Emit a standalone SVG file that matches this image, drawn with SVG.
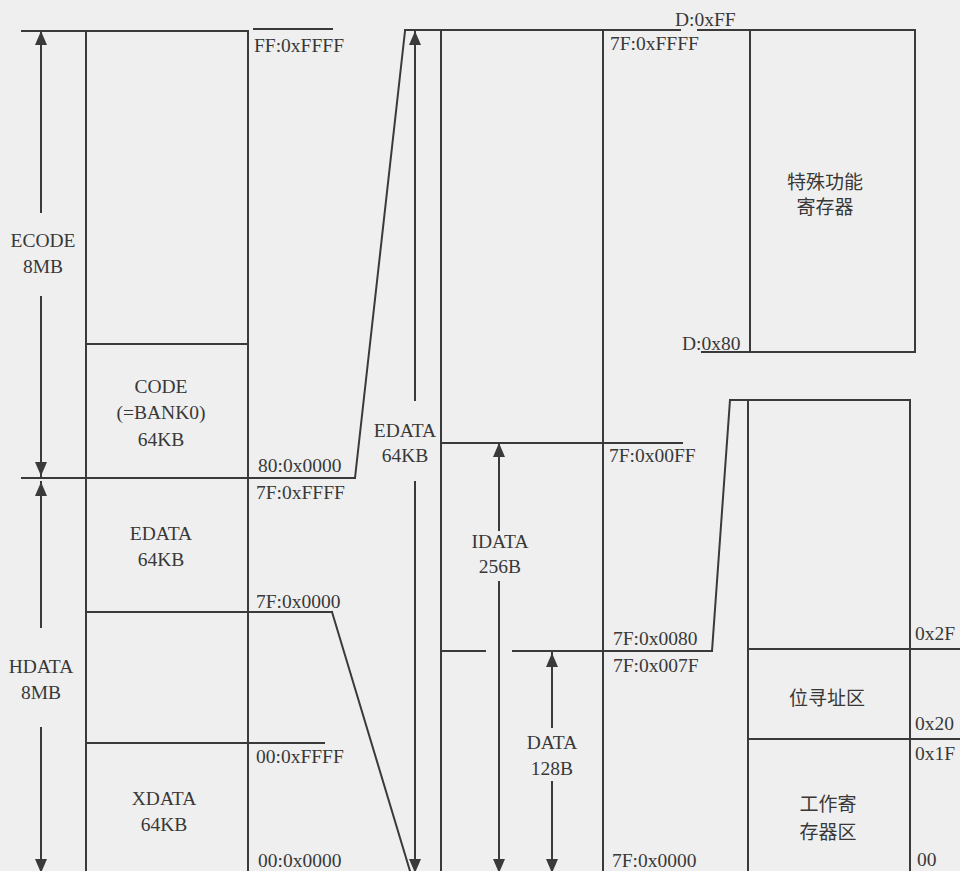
<svg xmlns="http://www.w3.org/2000/svg" width="960" height="871" viewBox="0 0 960 871">
<style>
.ln{stroke:#3a3a3a;stroke-width:2;fill:none;stroke-linecap:square}
.t{font-family:"Liberation Serif","Times New Roman",serif;font-size:19.5px;fill:#383838}
.c{text-anchor:middle}
.cjk{font-family:"Noto Sans CJK SC","Noto Sans CJK JP",sans-serif;font-size:19px;fill:#383838;text-anchor:middle}
</style>
<defs>
<marker id="ah" markerUnits="userSpaceOnUse" markerWidth="14" markerHeight="12" refX="14" refY="6" orient="auto">
<path d="M0,0 L14,6 L0,12 z" fill="#3a3a3a"/>
</marker>
</defs>
<rect width="960" height="871" fill="#efefef"/>

<g id="left-memory">
<path class="ln" d="M22,31 H248 M86,31 V871 M248,31 V871 M86,344 H248 M22,478 H355 M86,612 H332 M86,743 H324 M254,29 H332"/>
<text class="t c" x="43" y="247">ECODE</text>
<text class="t c" x="43" y="273">8MB</text>
<text class="t c" x="161" y="393">CODE</text>
<text class="t c" x="161" y="419">(=BANK0)</text>
<text class="t c" x="161" y="446">64KB</text>
<text class="t c" x="161" y="540">EDATA</text>
<text class="t c" x="161" y="566">64KB</text>
<text class="t c" x="41" y="673">HDATA</text>
<text class="t c" x="41" y="699">8MB</text>
<text class="t c" x="164" y="805">XDATA</text>
<text class="t c" x="164" y="831">64KB</text>
<text class="t" x="254" y="52">FF:0xFFFF</text>
<text class="t" x="258" y="472">80:0x0000</text>
<text class="t" x="256" y="499">7F:0xFFFF</text>
<text class="t" x="256" y="608">7F:0x0000</text>
<text class="t" x="256" y="763">00:0xFFFF</text>
<text class="t" x="258" y="867">00:0x0000</text>
</g>

<g id="middle-memory">
<path class="ln" d="M405,30 H680 M441,30 V871 M603,30 V871 M441,443 H682 M441,651 H485 M513,651 H712"/>
<text class="t c" x="405" y="437">EDATA</text>
<text class="t c" x="405" y="462">64KB</text>
<text class="t c" x="500" y="548">IDATA</text>
<text class="t c" x="500" y="573">256B</text>
<text class="t c" x="552" y="749">DATA</text>
<text class="t c" x="552" y="775">128B</text>
<text class="t" x="610" y="50">7F:0xFFFF</text>
<text class="t" x="609" y="462">7F:0x00FF</text>
<text class="t" x="613" y="645">7F:0x0080</text>
<text class="t" x="613" y="672">7F:0x007F</text>
<text class="t" x="612" y="867">7F:0x0000</text>
</g>

<g id="sfr">
<path class="ln" d="M698,30 H915 M750,30 V352 M915,30 V352 M702,352 H915"/>
<text class="t" x="675" y="26">D:0xFF</text>
<text class="t" x="682" y="350">D:0x80</text>
<text class="cjk" x="825" y="189">特殊功能</text>
<text class="cjk" x="825" y="214">寄存器</text>
</g>

<g id="internal-ram">
<path class="ln" d="M730,400 H910 M748,400 V871 M910,400 V871 M748,649 H960 M748,739 H960"/>
<text class="cjk" x="827" y="705">位寻址区</text>
<text class="cjk" x="828" y="811">工作寄</text>
<text class="cjk" x="828" y="839">存器区</text>
<text class="t" x="915" y="640">0x2F</text>
<text class="t" x="915" y="730">0x20</text>
<text class="t" x="915" y="760">0x1F</text>
<text class="t" x="917" y="866">00</text>
</g>

<g id="connectors">
<path class="ln" d="M355,478 L405,31 M332,612 L410,871 M712,651 L730,400"/>
<g class="ln" marker-end="url(#ah)">
<line x1="41" y1="212" x2="41" y2="31"/>
<line x1="41" y1="297" x2="41" y2="476"/>
<line x1="41" y1="627" x2="41" y2="482"/>
<line x1="41" y1="728" x2="41" y2="873"/>
<line x1="415" y1="400" x2="415" y2="31"/>
<line x1="415" y1="482" x2="415" y2="873"/>
<line x1="499" y1="530" x2="499" y2="443"/>
<line x1="499" y1="582" x2="499" y2="873"/>
<line x1="552" y1="727" x2="552" y2="653"/>
<line x1="552" y1="782" x2="552" y2="873"/>
</g>
</g>
</svg>
